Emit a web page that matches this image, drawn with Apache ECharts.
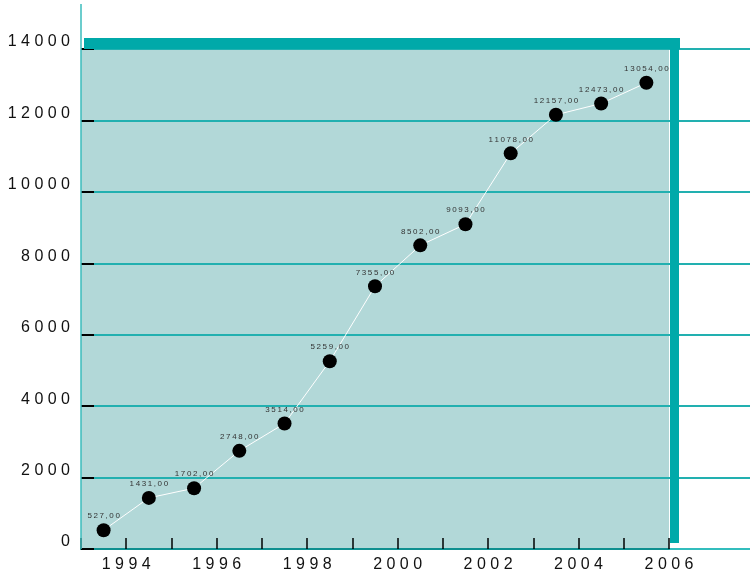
<!DOCTYPE html>
<html><head><meta charset="utf-8">
<script src="https://cdn.jsdelivr.net/npm/echarts@6/dist/echarts.min.js"></script>
<style>html,body{margin:0;padding:0;background:#fff}#c{width:750px;height:578px}</style>
</head><body><div id="c"></div>
<script>
// ---- data ----
const years = ['1993','1994','1995','1996','1997','1998','1999','2000','2001','2002','2003','2004','2005'];
const values = [527, 1431, 1702, 2748, 3514, 5259, 7355, 8502, 9093, 11078, 12157, 12473, 13054];
const xTickLabels = [1994, 1996, 1998, 2000, 2002, 2004, 2006];
const yMin = 0, yMax = 14000, yStep = 2000;
const xMin = 1993, xMax = 2006;

// ---- layout ----
const W = 750, H = 578;
const L = 81, PR = 669, T = 49, B = 549;

const spaced = s => String(s).split('').join(' ');
const thin = s => String(s).split('').join('\u2009');

const chart = echarts.init(document.getElementById('c'), null, {renderer: 'canvas'});
chart.setOption({
  animation: false,
  backgroundColor: '#ffffff',
  textStyle: {fontFamily: 'Liberation Sans, Arial, sans-serif'},
  grid: [
    {left: L, right: 0, top: T, bottom: H - B, show: false, containLabel: false},
    {left: L, right: W - PR, top: T, bottom: H - B, show: true, backgroundColor: '#b2d8d8', borderWidth: 0, containLabel: false}
  ],
  xAxis: [
    {gridIndex: 0, type: 'value', min: 0, max: 1, axisLine: {show: true, lineStyle: {color: '#33bdbd', width: 2}},
     axisTick: {show: false}, axisLabel: {show: false}, splitLine: {show: false}},
    {gridIndex: 1, type: 'category', data: years, boundaryGap: true, position: 'bottom',
     axisLine: {show: true, lineStyle: {color: '#0f8f8f', width: 2}},
     axisTick: {show: true, inside: true, length: 11, lineStyle: {color: '#000', width: 1.5}},
     axisLabel: {show: false}, splitLine: {show: false}},
    {gridIndex: 1, type: 'value', position: 'bottom', min: xMin, max: xMax, interval: 1,
     axisLine: {show: false}, axisTick: {show: false}, splitLine: {show: false},
     axisLabel: {fontSize: 16, color: '#111', margin: 8,
       formatter: v => xTickLabels.indexOf(v) >= 0 ? spaced(v) : ''}}
  ],
  yAxis: [
    {gridIndex: 0, type: 'value', min: yMin, max: yMax, interval: yStep,
     axisLine: {show: false}, axisTick: {show: false}, axisLabel: {show: false},
     splitLine: {show: true, lineStyle: {color: '#22b0b0', width: 2}}},
    {gridIndex: 1, type: 'value', min: yMin, max: yMax, interval: yStep,
     axisLine: {show: false},
     axisTick: {show: true, inside: true, length: 13, lineStyle: {color: '#000', width: 2}},
     axisLabel: {fontSize: 16, color: '#111', margin: 11, verticalAlign: 'bottom', lineHeight: 14,
       formatter: v => spaced(v)},
     splitLine: {show: false}}
  ],
  series: [{
    type: 'line', xAxisIndex: 1, yAxisIndex: 1, data: values,
    symbol: 'circle', symbolSize: 14, showAllSymbol: true,
    itemStyle: {color: '#000'},
    lineStyle: {color: '#ffffff', width: 1},
    label: {show: true, position: 'top', distance: 3, fontSize: 8, color: '#333',
      formatter: p => thin(p.value.toFixed(2).replace('.', ','))},
    z: 5
  }],
  graphic: [
    {type: 'line', z: 20, shape: {x1: L, y1: 4, x2: L, y2: B}, style: {stroke: '#3bbcbc', lineWidth: 1.5}},
    {type: 'rect', z: 20, shape: {x: L + 3, y: T - 11, width: PR + 11 - (L + 3), height: 11}, style: {fill: '#00a9a9'}},
    {type: 'rect', z: 20, shape: {x: PR + 1, y: T - 11, width: 9, height: B - 6 - (T - 11)}, style: {fill: '#00a9a9'}}
  ]
});
</script>
</body></html>
